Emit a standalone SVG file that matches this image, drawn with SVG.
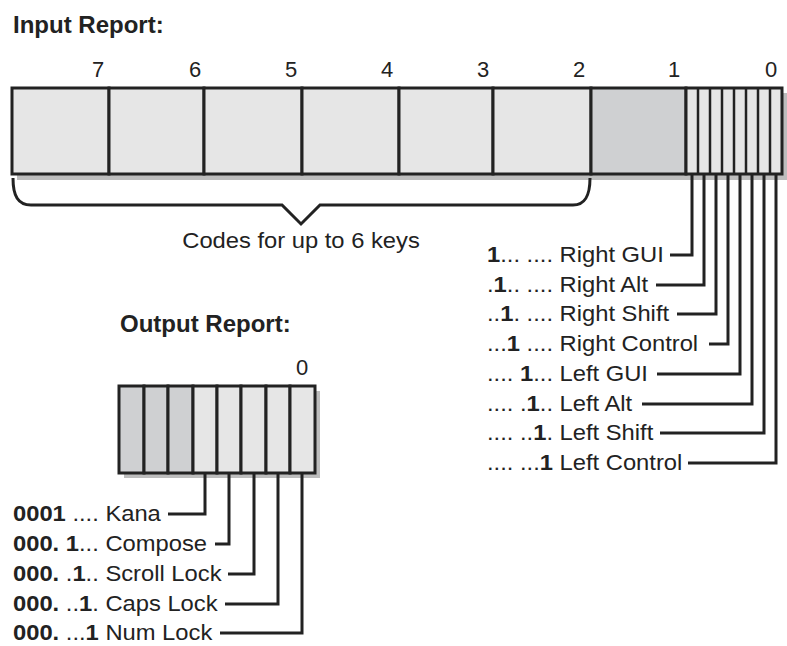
<svg xmlns="http://www.w3.org/2000/svg" width="787" height="646" viewBox="0 0 787 646">
<style>
text{font-family:"Liberation Sans",Arial,sans-serif;fill:#222}
.t{font-size:24px;font-weight:bold}
.d{font-size:22px;text-anchor:middle}
.l{font-size:22px}
.b{font-weight:bold}
.lt{fill:#e6e6e6;stroke:#222;stroke-width:3}
.dk{fill:#cfd0d2;stroke:#222;stroke-width:3}
.sh{fill:#bdbdbd}
.bit{stroke:#222;stroke-width:2.5}
.c{fill:none;stroke:#222;stroke-width:3}
</style>
<rect width="787" height="646" fill="#fff"/>
<g id="title-input"><text class="t" x="13" y="33">Input Report:</text></g>
<g id="input-report">
<rect class="sh" x="17" y="93" width="770" height="87"/>
<rect class="lt" x="12" y="88" width="97" height="86"/>
<rect class="lt" x="109" y="88" width="95" height="86"/>
<rect class="lt" x="204" y="88" width="98" height="86"/>
<rect class="lt" x="302" y="88" width="97" height="86"/>
<rect class="lt" x="399" y="88" width="94" height="86"/>
<rect class="lt" x="493" y="88" width="98" height="86"/>
<rect class="dk" x="591" y="88" width="95" height="86"/>
<rect class="lt" x="686" y="88" width="96" height="86"/>
<g class="bit"><line x1="698" y1="88" x2="698" y2="174"/><line x1="710" y1="88" x2="710" y2="174"/><line x1="722" y1="88" x2="722" y2="174"/><line x1="734" y1="88" x2="734" y2="174"/><line x1="746" y1="88" x2="746" y2="174"/><line x1="758" y1="88" x2="758" y2="174"/><line x1="770" y1="88" x2="770" y2="174"/></g>
<text class="d" x="98" y="77">7</text>
<text class="d" x="195" y="77">6</text>
<text class="d" x="291" y="77">5</text>
<text class="d" x="387" y="77">4</text>
<text class="d" x="483" y="77">3</text>
<text class="d" x="579" y="77">2</text>
<text class="d" x="674" y="77">1</text>
<text class="d" x="771" y="77">0</text>
</g>
<g id="brace">
<path class="c" d="M13,178 C13,196 18,205 31,205 L282,205 L301,224 L320,205 L573,205 C585,205 590,196 590,178"/>
<text class="l" transform="translate(301,248) scale(1.08,1)" text-anchor="middle">Codes for up to 6 keys</text>
</g>
<g id="input-labels">
<text class="l" transform="translate(487,262) scale(1.08,1)"><tspan class="b">1</tspan>... .... Right GUI</text>
<text class="l" transform="translate(487,292) scale(1.08,1)">.<tspan class="b">1</tspan>.. .... Right Alt</text>
<text class="l" transform="translate(487,321) scale(1.08,1)">..<tspan class="b">1</tspan>. .... Right Shift</text>
<text class="l" transform="translate(487,351) scale(1.08,1)">...<tspan class="b">1</tspan> .... Right Control</text>
<text class="l" transform="translate(487,381) scale(1.08,1)">.... <tspan class="b">1</tspan>... Left GUI</text>
<text class="l" transform="translate(487,411) scale(1.08,1)">.... .<tspan class="b">1</tspan>.. Left Alt</text>
<text class="l" transform="translate(487,440) scale(1.08,1)">.... ..<tspan class="b">1</tspan>. Left Shift</text>
<text class="l" transform="translate(487,470) scale(1.08,1)">.... ...<tspan class="b">1</tspan> Left Control</text>
</g>
<g id="title-output"><text class="t" x="120" y="332">Output Report:</text></g>
<g id="output-report">
<rect class="sh" x="124" y="391" width="196" height="87"/>
<rect class="dk" x="119" y="386" width="25" height="87"/>
<rect class="dk" x="144" y="386" width="24" height="87"/>
<rect class="dk" x="168" y="386" width="25" height="87"/>
<rect class="lt" x="193" y="386" width="24" height="87"/>
<rect class="lt" x="217" y="386" width="24" height="87"/>
<rect class="lt" x="241" y="386" width="25" height="87"/>
<rect class="lt" x="266" y="386" width="24" height="87"/>
<rect class="lt" x="290" y="386" width="25" height="87"/>
<text class="d" x="302" y="375">0</text>
</g>
<g id="output-labels">
<text class="l" transform="translate(13,521) scale(1.08,1)"><tspan class="b">0001</tspan> .... Kana</text>
<text class="l" transform="translate(13,551) scale(1.08,1)"><tspan class="b">000.</tspan> <tspan class="b">1</tspan>... Compose</text>
<text class="l" transform="translate(13,581) scale(1.08,1)"><tspan class="b">000.</tspan> .<tspan class="b">1</tspan>.. Scroll Lock</text>
<text class="l" transform="translate(13,611) scale(1.08,1)"><tspan class="b">000.</tspan> ..<tspan class="b">1</tspan>. Caps Lock</text>
<text class="l" transform="translate(13,640) scale(1.08,1)"><tspan class="b">000.</tspan> ...<tspan class="b">1</tspan> Num Lock</text>
</g>
<g id="connectors" class="c">
<polyline points="692,174 692,255 670,255"/>
<polyline points="704,174 704,285 656,285"/>
<polyline points="716,174 716,314 677,314"/>
<polyline points="728,174 728,344 709,344"/>
<polyline points="740,174 740,374 657,374"/>
<polyline points="752,174 752,404 642,404"/>
<polyline points="764,174 764,433 660,433"/>
<polyline points="776,174 776,463 688,463"/>
<polyline points="205,473 205,514 168,514"/>
<polyline points="229,473 229,544 215,544"/>
<polyline points="254,473 254,574 228,574"/>
<polyline points="278,473 278,604 225,604"/>
<polyline points="302,473 302,633 220,633"/>
</g>
</svg>
